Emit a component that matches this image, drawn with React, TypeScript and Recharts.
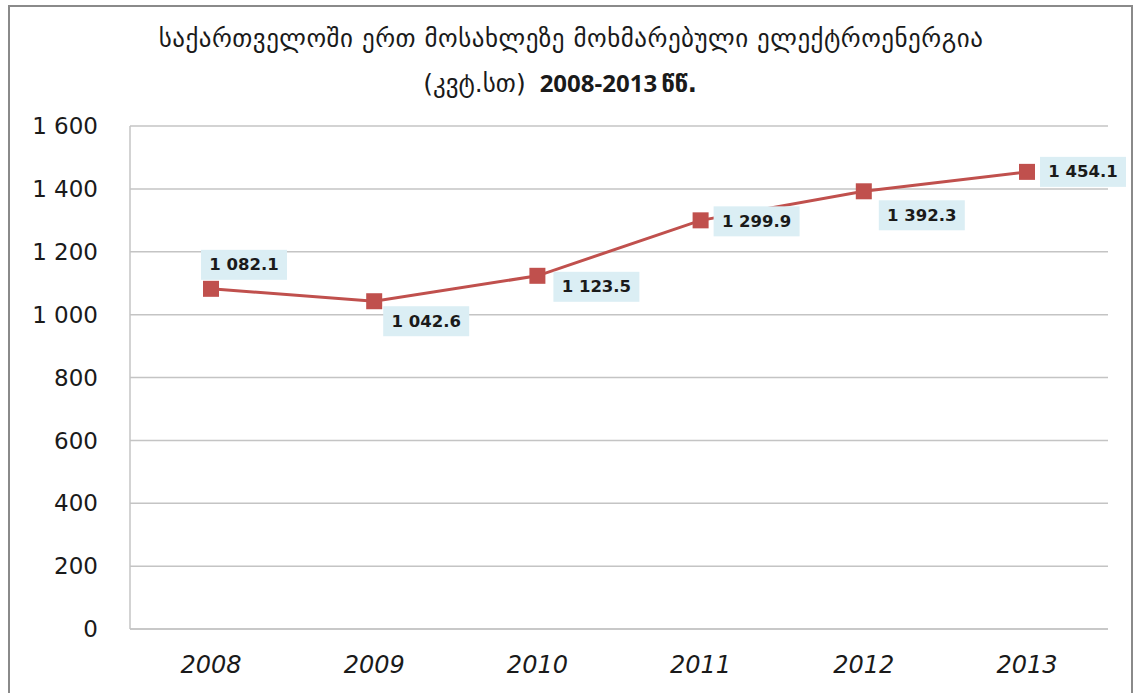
import { LineChart, Line, XAxis, YAxis, CartesianGrid, LabelList } from 'recharts';

const years: string[] = ['2008', '2009', '2010', '2011', '2012', '2013'];
const consumption: number[] = [1082.1, 1042.6, 1123.5, 1299.9, 1392.3, 1454.1];
const yTicks: number[] = [0, 200, 400, 600, 800, 1000, 1200, 1400, 1600];

const titleLine1 = 'საქართველოში ერთ მოსახლეზე მოხმარებული ელექტროენერგია';
const titleUnit = '(კვტ.სთ)';
const titleYears = '2008-2013';
const titleSuffix = 'წწ.';

// where each value label sits relative to its marker (Excel-style manual placement)
const labelOffsets: { dx: number; dy: number }[] = [
  { dx: 33, dy: -24 },
  { dx: 52, dy: 20 },
  { dx: 59, dy: 11 },
  { dx: 56, dy: 1 },
  { dx: 58, dy: 24 },
  { dx: 56, dy: 0 },
];

const data = years.map((year, i) => ({ year, value: consumption[i] }));

const RED = '#c0504d';
const GRID = '#c4c4c4';
const FONT = '"DejaVu Sans", Verdana, sans-serif';

const groupDigits = (s: string) => s.replace(/\B(?=(\d{3})+(?!\d))/g, ' ');
const formatTick = (v: number) => groupDigits(String(v));
const formatValue = (v: number) => {
  const [int, dec] = v.toFixed(1).split('.');
  return `${groupDigits(int)}.${dec}`;
};

function SquareDot(props: any) {
  const { cx, cy } = props;
  if (cx == null || cy == null) return null;
  return <rect x={cx - 8} y={cy - 8} width={16} height={16} fill={RED} />;
}

function ValueLabel(props: any) {
  const { x, y, value, index } = props;
  const off = labelOffsets[index] ?? { dx: 40, dy: 0 };
  const cx = x + off.dx;
  const cy = y + off.dy;
  const w = 86;
  const h = 30;
  return (
    <g>
      <rect x={cx - w / 2} y={cy - h / 2} width={w} height={h} fill="#dbeef4" />
      <text
        x={cx}
        y={cy}
        textAnchor="middle"
        dominantBaseline="central"
        fontFamily={FONT}
        fontWeight="bold"
        fontSize={16.5}
        fill="#1a1a1a"
      >
        {formatValue(value)}
      </text>
    </g>
  );
}

export default function App() {
  return (
    <div style={{ position: 'absolute', left: 0, top: 0, width: 1133, height: 693, background: '#fff', overflow: 'hidden' }}>
      <div
        style={{
          position: 'absolute',
          left: 8,
          top: 5,
          width: 1121,
          height: 700,
          borderLeft: '2px solid #8a8a8a',
          borderTop: '2px solid #8a8a8a',
          borderRight: '2px solid #8a8a8a',
        }}
      />
      <div
        style={{
          position: 'absolute',
          left: 0,
          top: 24,
          width: 1142,
          textAlign: 'center',
          fontFamily: FONT,
          fontSize: 25,
          letterSpacing: 0.5,
          color: '#1a1a1a',
          whiteSpace: 'nowrap',
        }}
      >
        {titleLine1}
      </div>
      <div
        style={{
          position: 'absolute',
          left: 0,
          top: 66,
          width: 1120,
          textAlign: 'center',
          fontFamily: FONT,
          fontSize: 25,
          color: '#1a1a1a',
          whiteSpace: 'nowrap',
        }}
      >
        <span>{titleUnit}</span>
        <span style={{ fontFamily: '"Open Sans", sans-serif', fontWeight: 'bold', fontSize: 24, marginLeft: 14 }}>
          {titleYears}
        </span>
        <span style={{ fontWeight: 'bold', fontSize: 24, marginLeft: 4 }}>{titleSuffix}</span>
      </div>
      <div style={{ position: 'absolute', left: 0, top: 0 }}>
        <LineChart width={1133} height={693} data={data} margin={{ top: 126, right: 25, left: 20, bottom: 34 }}>
          <CartesianGrid vertical={false} stroke={GRID} strokeWidth={1.5} />
          <XAxis
            dataKey="year"
            padding={{ left: 81, right: 81 }}
            axisLine={{ stroke: GRID, strokeWidth: 1.5 }}
            tickLine={false}
            tickSize={0}
            tickMargin={27}
            tick={{ fontFamily: FONT, fontSize: 24, fontStyle: 'italic', fill: '#1a1a1a' }}
          />
          <YAxis
            width={110}
            domain={[0, 1600]}
            ticks={yTicks}
            tickFormatter={formatTick}
            axisLine={{ stroke: GRID, strokeWidth: 1.5 }}
            tickLine={false}
            tickSize={0}
            tickMargin={32}
            tick={{ fontFamily: FONT, fontSize: 23, fill: '#1a1a1a' }}
          />
          <Line
            type="linear"
            dataKey="value"
            stroke={RED}
            strokeWidth={3}
            dot={<SquareDot />}
            activeDot={false}
            isAnimationActive={false}
          >
            <LabelList dataKey="value" content={<ValueLabel />} />
          </Line>
        </LineChart>
      </div>
    </div>
  );
}
